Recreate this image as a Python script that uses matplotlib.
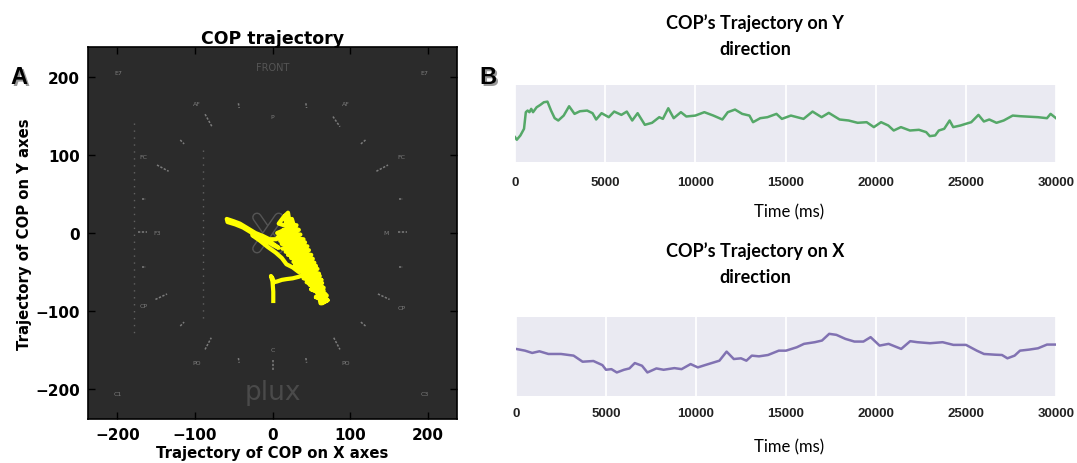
import matplotlib
matplotlib.use("Agg")
import matplotlib.pyplot as plt

# ---------------- data ----------------
# Panel A: COP trajectory as (x, y) samples
traj_xy = [(1, -87), (1, -75), (0, -62), (-2, -55), (0, -58), (2, -63), (6, -62), (12, -60), (18, -59),
           (26, -58), (34, -56), (40, -53), (46, -56),
           (55, -60), (48, -66), (64, -64), (50, -72), (68, -78), (56, -82), (71, -86), (64, -90), (70, -80),
           (48, -66), (63, -60), (40, -58), (61, -55), (35, -48), (58, -46), (29, -40), (54, -38), (24, -32),
           (50, -28), (17, -24), (45, -17), (12, -14), (40, -8), (8, -5), (34, 4), (8, 12), (14, 20), (20, 26),
           (22, 14), (25, 18), (28, 8), (31, 10),
           (6, 0), (36, -2), (10, -10), (42, -12), (13, -20), (47, -22), (20, -28), (52, -33), (27, -37),
           (56, -42), (32, -45), (60, -52), (38, -54), (63, -60), (44, -63), (66, -70), (50, -72), (68, -80),
           (56, -82), (71, -86), (62, -90),
           (58, -72), (50, -56), (44, -44), (38, -30), (30, -18), (22, -6), (14, 4),
           (5, -8), (-4, -8), (-12, -4), (-22, 0), (-32, 6), (-42, 12), (-50, 15), (-59, 18), (-58, 14),
           (-48, 11), (-38, 7), (-28, 1), (-20, -3), (-10, -9), (0, -15), (8, -19),
           (-2, -12), (-14, -6), (-26, -3), (-16, -10), (-6, -18), (4, -25), (12, -32), (18, -40), (26, -44),
           (34, -50),
           (30, -30), (46, -36), (36, -24), (52, -44), (42, -48), (58, -58), (50, -62), (62, -70), (58, -78),
           (66, -74), (60, -62), (54, -52), (48, -40), (40, -26), (34, -14), (26, -2), (18, 10), (16, 22),
           (20, 18), (24, 6), (32, -6), (38, -18), (44, -30), (50, -46), (56, -56), (62, -66), (66, -84)]
traj_x = [p[0] for p in traj_xy]
traj_y = [p[1] for p in traj_xy]

# Panel B (top): COP trajectory on Y direction (arbitrary units)
time_y = [0, 100, 300, 500, 600, 700, 800, 900, 1000, 1200, 1400, 1600, 1800, 2000, 2200, 2400,
          2700, 3000, 3300, 3600, 4000, 4300, 4500, 4800, 5200, 5500, 5900, 6200, 6500, 6800,
          7200, 7600, 8000, 8200, 8500, 8800, 9200, 9500, 10000, 10500, 11000, 11500, 11800,
          12200, 12600, 13000, 13200, 13600, 14000, 14500, 14800, 15300, 16000, 16500, 17000,
          17400, 18000, 18500, 19000, 19500, 19900, 20300, 20700, 21000, 21400, 21900, 22400,
          22800, 23000, 23300, 23500, 23800, 24100, 24300, 24700, 25000, 25300, 25700, 26000,
          26300, 26700, 27100, 27600, 28000, 29000, 29500, 29700, 30000]
cop_y = [32.3, 28.9, 34.5, 43.1, 64.7, 66.8, 64.7, 69.0, 64.7, 71.1, 74.1, 77.6, 78.4, 66.8, 56.9,
         53.9, 60.3, 72.4, 62.5, 65.9, 66.8, 63.4, 55.2, 63.4, 58.2, 65.5, 61.2, 65.5, 53.9, 63.4,
         48.3, 50.9, 58.2, 56.0, 69.8, 56.9, 64.7, 59.1, 60.3, 64.7, 60.3, 55.2, 64.7, 68.1, 62.5,
         60.3, 51.7, 56.9, 58.2, 62.5, 56.0, 60.3, 56.0, 65.5, 58.2, 63.8, 55.2, 53.9, 50.9, 51.7,
         45.3, 51.7, 47.4, 40.9, 45.3, 40.9, 41.8, 38.8, 33.6, 34.5, 40.9, 43.1, 53.9, 45.3, 47.4,
         49.6, 51.7, 61.2, 52.6, 55.2, 50.9, 53.9, 60.3, 59.5, 58.2, 56.9, 62.5, 56.9]

# Panel B (bottom): COP trajectory on X direction (arbitrary units)
time_x = [0, 500, 900, 1300, 1800, 2500, 3200, 3700, 4300, 4800, 5000, 5300, 5600, 6000, 6300,
          6600, 7000, 7300, 7800, 8200, 8800, 9200, 9700, 10100, 10500, 11000, 11300, 11700,
          12100, 12500, 12800, 13100, 13500, 14000, 14600, 15000, 15600, 16000, 16600, 17000,
          17400, 17800, 18300, 18800, 19300, 19700, 20200, 20700, 21400, 21900, 22300, 23000,
          23700, 24300, 25000, 25600, 26000, 26600, 27000, 27300, 27700, 28000, 28500, 29000,
          29500, 30000]
cop_x = [59.6, 57.4, 54.5, 56.6, 53.2, 53.2, 51.1, 43.4, 44.3, 39.1, 33.2, 34.0, 29.8, 33.2, 34.9,
         41.7, 38.3, 29.8, 34.9, 33.2, 35.3, 34.0, 40.4, 36.2, 39.1, 42.6, 44.7, 56.2, 46.8, 47.7,
         44.7, 51.1, 50.2, 51.9, 57.4, 57.4, 61.7, 66.0, 68.1, 70.2, 78.7, 77.4, 72.3, 68.9, 68.9,
         74.5, 63.8, 66.0, 59.6, 69.4, 68.1, 66.8, 68.1, 64.7, 64.7, 57.4, 53.2, 52.3, 51.9, 47.7,
         51.1, 57.4, 58.7, 60.4, 65.1, 65.1]

time_ticks = [0, 5000, 10000, 15000, 20000, 25000, 30000]
a_ticks = [-200, -100, 0, 100, 200]

# background platform drawing (segments x0, y0, x1, y1)
plate_segments = [(-87, 152, -78, 136), (78, 149, 87, 136), (-119, 119, -114, 114), (114, 114, 120, 119),
                  (-149, 87, -134, 79), (134, 79, 149, 87), (-173, 1, -162, 1), (162, 1, 173, 1),
                  (-151, -85, -136, -78), (136, -78, 151, -85), (-119, -119, -114, -114),
                  (114, -114, 120, -119), (-87, -149, -79, -134), (79, -134, 87, -149),
                  (-44, 166, -43, 160), (43, 166, 44, 160), (-44, -160, -43, -166), (43, -160, 44, -166),
                  (0, -162, 0, -175), (-168, 44, -163, 44), (163, 44, 168, 44),
                  (-168, -44, -163, -44), (163, -44, 168, -44)]
plate_dotted = [(-90, 106, -90, -110), (-179, 141, -179, -130)]
plate_labels = [(0, 149, "P"), (0, -149, "C"), (-149, 0, "F3"), (147, 0, "M"),
                (-98, 166, "AF"), (95, 166, "AF"), (-166, 98, "FC"), (166, 98, "FC"),
                (-166, -93, "CP"), (166, -95, "CP"), (-98, -166, "PO"), (95, -166, "PO"),
                (-199, 205, "E7"), (196, 205, "E7"), (-199, -205, "C1"), (196, -205, "C3")]

# ---------------- figure ----------------
W, H = 1077, 464
fig = plt.figure(figsize=(W / 100, H / 100), dpi=100)

# ---- Panel A ----
axA = fig.add_axes([88 / W, 1 - 420 / H, 369 / W, 372 / H])
axA.set_facecolor("#2b2b2b")
for (x0, y0, x1, y1) in plate_segments:
    axA.plot([x0, x1], [y0, y1], color="#7c7c7c", lw=1.1, ls=(0, (1.5, 1)), zorder=1)
for (x0, y0, x1, y1) in plate_dotted:
    axA.plot([x0, x1], [y0, y1], color="#626262", lw=1.0, ls=(0, (1, 4)), zorder=1)
for (x, y, s) in plate_labels:
    axA.text(x, y, s, color="#7c7c7c", fontsize=4.5, ha="center", va="center", zorder=1)
axA.text(0, 212, "FRONT", color="#555555", fontsize=7, ha="center", va="center")
axA.text(0, -204, "plux", color="#4a4a4a", fontsize=19, ha="center", va="center",
         family="DejaVu Sans")
# center logo outline
axA.plot([-20, 8], [20, -20], color="#555555", lw=7, solid_capstyle="round", zorder=1)
axA.plot([-20, 8], [20, -20], color="#2b2b2b", lw=5, solid_capstyle="round", zorder=1)
axA.plot([-20, 8], [-20, 20], color="#555555", lw=7, solid_capstyle="round", zorder=1)
axA.plot([-20, 8], [-20, 20], color="#2b2b2b", lw=5, solid_capstyle="round", zorder=1)

axA.plot(traj_x, traj_y, color="#ffff00", lw=3.0, solid_joinstyle="round", zorder=3)
axA.set_xlim(-238, 238)
axA.set_ylim(-238, 238)
axA.set_xticks(a_ticks)
axA.set_yticks(a_ticks)
axA.tick_params(direction="in", top=True, right=True, length=5, width=1, labelsize=11, pad=6)
for lab in axA.get_xticklabels() + axA.get_yticklabels():
    lab.set_fontweight("bold")
for sp in axA.spines.values():
    sp.set_linewidth(1.2)
axA.set_title("COP trajectory", fontsize=12.5, fontweight="bold", pad=3)
axA.set_xlabel("Trajectory of COP on X axes", fontsize=10.7, fontweight="bold", labelpad=2)
axA.set_ylabel("Trajectory of COP on Y axes", fontsize=10.7, fontweight="bold", labelpad=2)

# ---- Panel B ----
def style_b(ax, pad):
    ax.set_facecolor("#EAEAF2")
    for sp in ax.spines.values():
        sp.set_visible(False)
    ax.set_xlim(0, 30000)
    ax.set_ylim(0, 100)
    ax.set_xticks(time_ticks)
    ax.set_yticks([])
    ax.grid(axis="x", color="white", lw=1.3)
    ax.set_axisbelow(True)
    ax.tick_params(axis="x", length=0, pad=pad, labelsize=9.5, labelcolor="#222222")
    for lab in ax.get_xticklabels():
        lab.set_fontweight("bold")
        lab.set_family("Liberation Sans")

axB1 = fig.add_axes([515 / W, 1 - 163 / H, 541 / W, 77 / H])
style_b(axB1, 10)
axB1.plot(time_y, cop_y, color="#55A868", lw=1.8)

axB2 = fig.add_axes([516 / W, 1 - 397 / H, 540 / W, 79 / H])
style_b(axB2, 8)
axB2.plot(time_x, cop_x, color="#8172B2", lw=1.8)

fig.text(755 / W, 1 - 36 / H, "COP\u2019s Trajectory on Y\ndirection", ha="center", va="center",
         fontsize=13, fontweight="bold", family="Lato", linespacing=1.6)
fig.text(755 / W, 1 - 264 / H, "COP\u2019s Trajectory on X\ndirection", ha="center", va="center",
         fontsize=13, fontweight="bold", family="Lato", linespacing=1.6)
fig.text(789 / W, 1 - 212 / H, "Time (ms)", ha="center", va="center", fontsize=12, family="Lato")
fig.text(789 / W, 1 - 447 / H, "Time (ms)", ha="center", va="center", fontsize=12, family="Lato")

# panel letters
for (x, y, s) in [(19, 78, "A"), (488, 78, "B")]:
    fig.text((x + 1.5) / W, 1 - (y + 1.5) / H, s, ha="center", va="center", fontsize=17,
             fontweight="bold", family="Liberation Sans", color="#999999")
    fig.text(x / W, 1 - y / H, s, ha="center", va="center", fontsize=17,
             fontweight="bold", family="Liberation Sans", color="black")

fig.savefig("out.png", dpi=100)
